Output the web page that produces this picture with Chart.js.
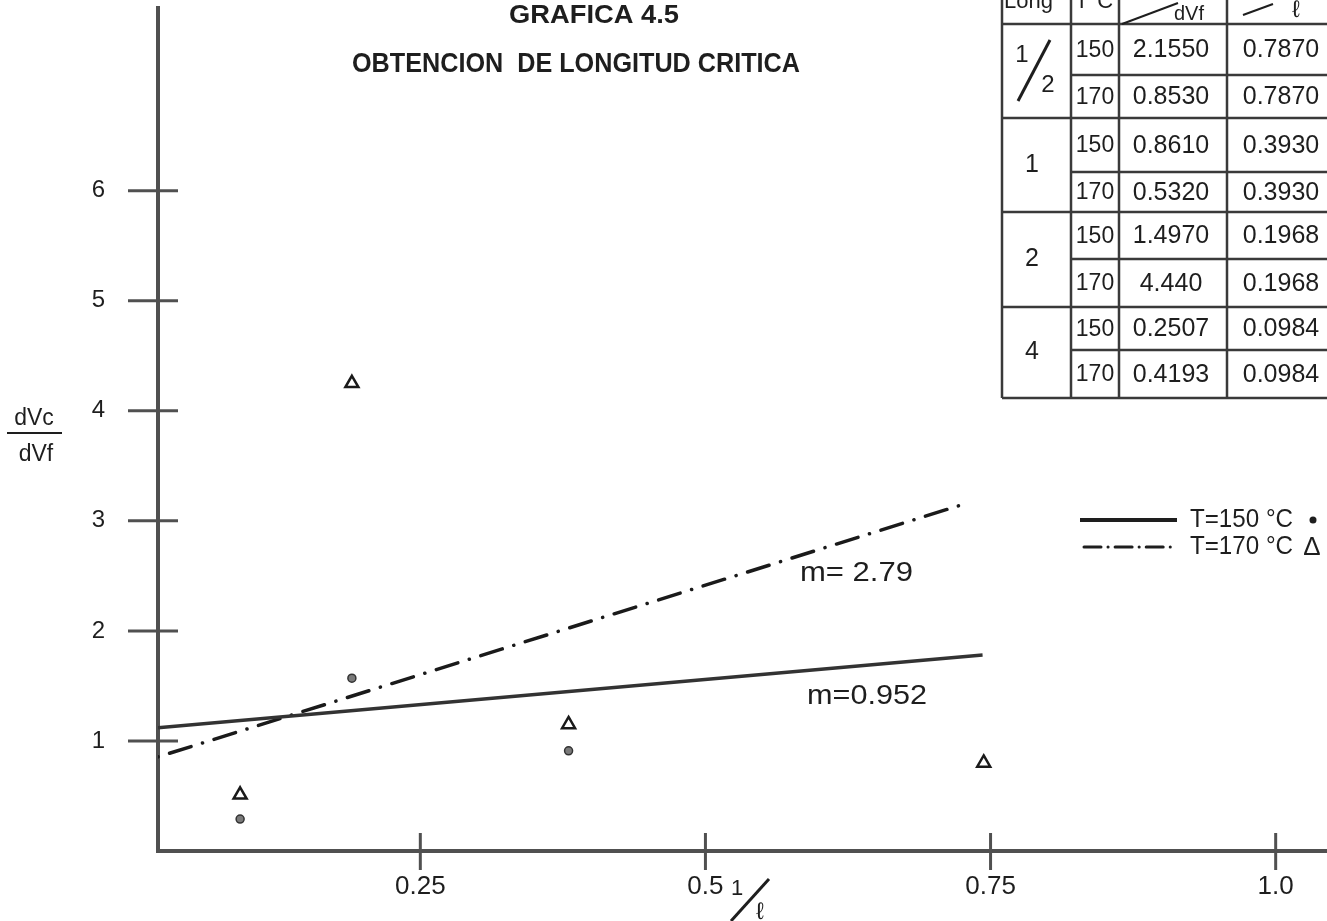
<!DOCTYPE html>
<html>
<head>
<meta charset="utf-8">
<script src="https://cdn.jsdelivr.net/npm/chart.js@4.4.0/dist/chart.umd.min.js"></script>
<style>
  html, body { margin: 0; padding: 0; background: #fff; }
  #wrap { width: 1327px; height: 921px; }
</style>
</head>
<body>
<div id="wrap"><canvas id="grafica" width="1327" height="921"></canvas></div>
<script>
// x = 1/l , y = dVc/dVf
const xTicks = [0.25, 0.5, 0.75, 1.0];
const yTicks = [1, 2, 3, 4, 5, 6];

const puntos150X = [0.092, 0.190, 0.380];
const puntos150Y = [0.29, 1.57, 0.91];
const puntos170X = [0.092, 0.190, 0.380, 0.744];
const puntos170Y = [0.51, 4.25, 1.15, 0.80];

// rectas de ajuste
const recta150X = [0.02, 0.743];
const recta150Y = [1.12, 1.78];
const recta170X = [0.02, 0.726];
const recta170Y = [0.855, 3.15];

// tabla de datos
const tablaLong = ['1/2', '1', '2', '4'];
const tablaT = ['150', '170', '150', '170', '150', '170', '150', '170'];
const tablaDv = ['2.1550', '0.8530', '0.8610', '0.5320', '1.4970', '4.440', '0.2507', '0.4193'];
const tablaInvL = ['0.7870', '0.7870', '0.3930', '0.3930', '0.1968', '0.1968', '0.0984', '0.0984'];

const INK = '#1e1e1e';
const EJE = '#505050';
const FONT = "'Liberation Sans', Arial, sans-serif";

function toXY(xs, ys) {
  return xs.map((x, i) => ({ x: x, y: ys[i] }));
}

function texto(ctx, s, x, y, size, opts) {
  opts = opts || {};
  ctx.save();
  ctx.font = (opts.bold ? 'bold ' : '') + size + 'px ' + FONT;
  ctx.fillStyle = INK;
  ctx.textAlign = opts.align || 'left';
  ctx.textBaseline = opts.baseline || 'middle';
  if (opts.ancho) {
    const w = ctx.measureText(s).width;
    ctx.translate(x, y);
    ctx.scale(opts.ancho / w, 1);
    ctx.fillText(s, 0, 0);
  } else {
    ctx.fillText(s, x, y);
  }
  ctx.restore();
}

function linea(ctx, x1, y1, x2, y2, w, dash) {
  ctx.save();
  ctx.strokeStyle = INK;
  ctx.lineWidth = w;
  if (dash) { ctx.setLineDash(dash); ctx.lineCap = 'round'; }
  ctx.beginPath();
  ctx.moveTo(x1, y1);
  ctx.lineTo(x2, y2);
  ctx.stroke();
  ctx.restore();
}

// marcas que cruzan los ejes
const marcasEjes = {
  id: 'marcasEjes',
  afterDraw(chart) {
    const { ctx, scales: { x, y } } = chart;
    ctx.save();
    ctx.strokeStyle = EJE;
    ctx.lineWidth = 3;
    y.ticks.forEach(t => {
      const py = y.getPixelForValue(t.value);
      ctx.beginPath(); ctx.moveTo(x.left - 30, py); ctx.lineTo(x.left + 20, py); ctx.stroke();
    });
    x.ticks.forEach(t => {
      const px = x.getPixelForValue(t.value);
      ctx.beginPath(); ctx.moveTo(px, y.bottom - 18); ctx.lineTo(px, y.bottom + 19); ctx.stroke();
    });
    ctx.restore();
  }
};

// titulos, leyenda, pendientes y tabla
const rotulos = {
  id: 'rotulos',
  afterDraw(chart) {
    const ctx = chart.ctx;

    texto(ctx, 'GRAFICA 4.5', 594, 16, 25, { bold: true, align: 'center', ancho: 170 });
    texto(ctx, 'OBTENCION  DE LONGITUD CRITICA', 576, 65, 27, { bold: true, align: 'center', ancho: 448 });

    // eje y: dVc / dVf
    texto(ctx, 'dVc', 34, 419, 23, { align: 'center' });
    linea(ctx, 7, 433, 62, 433, 2);
    texto(ctx, 'dVf', 36, 455, 23, { align: 'center' });

    // eje x: 1/l
    texto(ctx, '1', 737, 889, 22, { align: 'center' });
    linea(ctx, 731, 921, 769, 879, 3);
    texto(ctx, '\u2113', 760, 912, 24, { align: 'center' });

    // pendientes
    texto(ctx, 'm= 2.79', 800, 573, 28, { ancho: 113 });
    texto(ctx, 'm=0.952', 807, 696, 28, { ancho: 120 });

    // leyenda
    linea(ctx, 1080, 520, 1177, 520, 4);
    linea(ctx, 1084, 547, 1172, 547, 3, [17, 7, 0.1, 7]);
    texto(ctx, 'T=150 \u00b0C', 1190, 520, 26, { ancho: 103 });
    texto(ctx, 'T=170 \u00b0C', 1190, 547, 26, { ancho: 103 });
    ctx.save();
    ctx.fillStyle = INK;
    ctx.beginPath(); ctx.arc(1313, 520, 3.5, 0, Math.PI * 2); ctx.fill();
    ctx.restore();
    texto(ctx, '\u0394', 1312, 548, 26, { align: 'center' });

    // tabla
    const colX = [1002, 1071, 1119, 1227, 1345];
    const filaY = [-10, 24, 75, 118, 172, 212, 259, 307, 350, 398];
    ctx.save();
    ctx.strokeStyle = '#3a3a3a';
    ctx.lineWidth = 2.5;
    colX.forEach(cx => {
      ctx.beginPath(); ctx.moveTo(cx, filaY[0]); ctx.lineTo(cx, filaY[9]); ctx.stroke();
    });
    filaY.forEach((fy, i) => {
      if (i === 0) return;
      const grupo = (i % 2 === 1);
      ctx.beginPath(); ctx.moveTo(grupo ? colX[0] : colX[1], fy); ctx.lineTo(colX[4], fy); ctx.stroke();
    });
    ctx.restore();

    // encabezado (cortado arriba)
    texto(ctx, 'Long', 1004, 8, 22, { baseline: 'alphabetic' });
    texto(ctx, 'T\u00b0C', 1075, 8, 22, { baseline: 'alphabetic' });
    linea(ctx, 1122, 24, 1178, 3, 2);
    texto(ctx, 'dVf', 1189, 14, 20, { align: 'center' });
    linea(ctx, 1243, 15, 1273, 4, 2);
    texto(ctx, '\u2113', 1296, 10, 24, { align: 'center' });

    tablaT.forEach((t, i) => {
      const cy = (filaY[i + 1] + filaY[i + 2]) / 2 + 1;
      texto(ctx, t, (colX[1] + colX[2]) / 2, cy, 23, { align: 'center' });
      texto(ctx, tablaDv[i], 1171, cy, 25, { align: 'center' });
      texto(ctx, tablaInvL[i], 1281, cy, 25, { align: 'center' });
    });

    tablaLong.forEach((l, g) => {
      const cy = (filaY[2 * g + 1] + filaY[2 * g + 3]) / 2;
      if (l === '1/2') {
        texto(ctx, '1', 1022, 55, 24, { align: 'center' });
        linea(ctx, 1018, 101, 1050, 40, 3);
        texto(ctx, '2', 1048, 85, 24, { align: 'center' });
      } else {
        texto(ctx, l, 1032, cy, 25, { align: 'center' });
      }
    });
  }
};

new Chart(document.getElementById('grafica'), {
  type: 'scatter',
  data: {
    datasets: [
      {
        label: 'T=150 \u00b0C',
        data: toXY(recta150X, recta150Y),
        showLine: true,
        borderColor: '#333',
        borderWidth: 3.5,
        pointRadius: 0,
        fill: false
      },
      {
        label: 'T=170 \u00b0C',
        data: toXY(recta170X, recta170Y),
        showLine: true,
        borderColor: '#1a1a1a',
        borderWidth: 3.5,
        borderDash: [22.5, 12, 0.1, 12],
        borderDashOffset: 34.5,
        borderCapStyle: 'round',
        pointRadius: 0,
        fill: false
      },
      {
        label: '150 \u00b0C',
        data: toXY(puntos150X, puntos150Y),
        pointStyle: 'circle',
        pointRadius: 4,
        backgroundColor: '#7a7a7a',
        borderColor: '#333',
        borderWidth: 1.5
      },
      {
        label: '170 \u00b0C',
        data: toXY(puntos170X, puntos170Y),
        pointStyle: 'triangle',
        pointRadius: 7.5,
        backgroundColor: '#fff',
        borderColor: '#1a1a1a',
        borderWidth: 2.5
      }
    ]
  },
  options: {
    responsive: false,
    animation: false,
    devicePixelRatio: 1,
    layout: { autoPadding: false, padding: { top: 8, right: 0, bottom: 0, left: 0 } },
    plugins: {
      legend: { display: false },
      tooltip: { enabled: false },
      title: { display: false }
    },
    scales: {
      x: {
        type: 'linear',
        min: 0.02,
        max: 1.045,
        afterBuildTicks: s => { s.ticks = xTicks.map(v => ({ value: v })); },
        afterFit: s => { s.height = 70; s.paddingLeft = 0; s.paddingRight = 0; },
        ticks: {
          callback: v => (v === 1 ? '1.0' : String(v)),
          font: { family: FONT, size: 26 },
          color: INK,
          padding: 20,
          maxRotation: 0,
          autoSkip: false
        },
        grid: { drawOnChartArea: false, drawTicks: false },
        border: { color: EJE, width: 4 }
      },
      y: {
        type: 'linear',
        min: 0,
        max: 7.66,
        afterBuildTicks: s => { s.ticks = yTicks.map(v => ({ value: v })); },
        afterFit: s => { s.width = 158; s.paddingTop = 0; s.paddingBottom = 0; },
        ticks: {
          font: { family: FONT, size: 24 },
          color: INK,
          padding: 53
        },
        grid: { drawOnChartArea: false, drawTicks: false },
        border: { color: EJE, width: 4 }
      }
    }
  },
  plugins: [marcasEjes, rotulos]
});
</script>
</body>
</html>
